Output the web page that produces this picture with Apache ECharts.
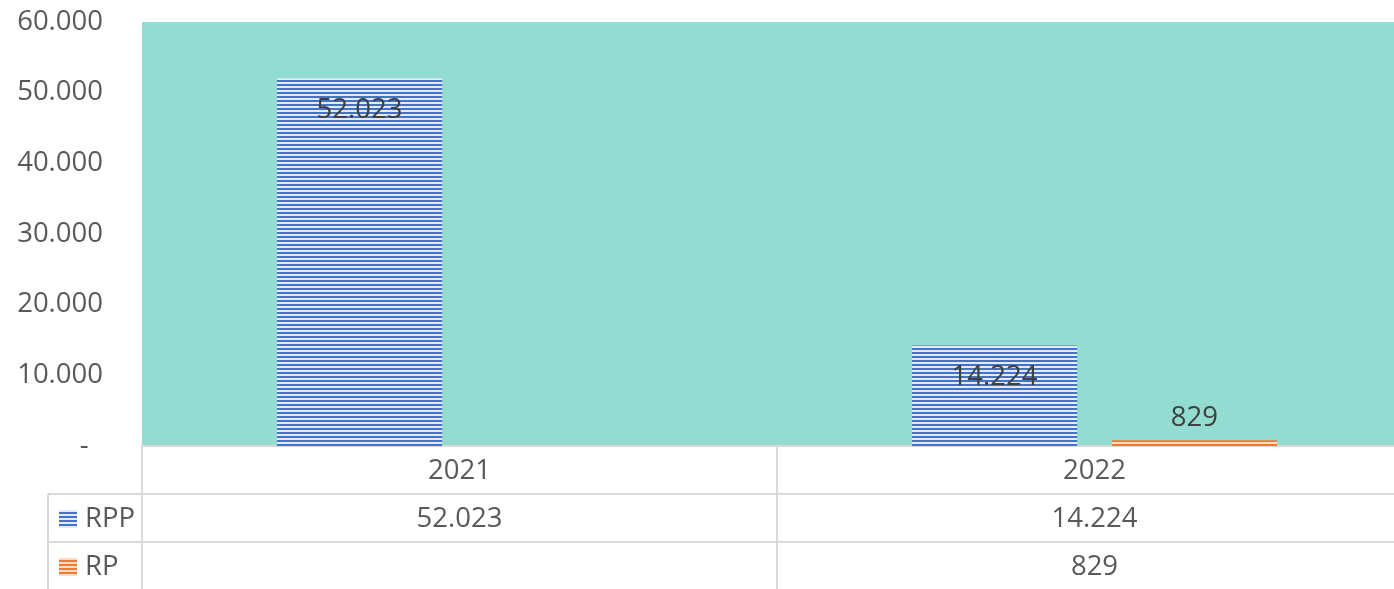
<!DOCTYPE html>
<html>
<head>
<meta charset="utf-8">
<script src="https://cdn.jsdelivr.net/npm/echarts@6/dist/echarts.min.js"></script>
<style>
html,body{margin:0;padding:0;background:#fff;}
#c{width:1394px;height:589px;}
</style>
</head>
<body>
<div id="c"></div>
<script>
const categories = ['2021', '2022'];
const seriesNames = ['RPP', 'RP'];
const rppValues = [52023, 14224];
const rpValues = [null, 829];
const yTicks = [0, 10000, 20000, 30000, 40000, 50000, 60000];

const FONT = '"Open Sans", "Noto Sans", sans-serif';
const FS = 27.5;
const BLUE = '#4472C4', BLUE_L = '#e3e9f6';
const ORANGE = '#ED7D31', ORANGE_L = '#f9dcc8';
const GRID = {left: 142, top: 22, width: 1270, height: 424};

function stripe(dark, light) {
  const c = document.createElement('canvas');
  c.width = 4; c.height = 4;
  const g = c.getContext('2d');
  g.fillStyle = light; g.fillRect(0, 0, 4, 4);
  g.fillStyle = dark; g.fillRect(0, 0, 4, 2);
  return {image: c, repeat: 'repeat'};
}
function fmt(v) {
  if (v === null || v === undefined) return '';
  if (v === 0) return '-  ';
  return String(v).replace(/\B(?=(\d{3})+(?!\d))/g, '.');
}

const chart = echarts.init(document.getElementById('c'), null, {renderer: 'canvas'});
const option = {
  animation: false,
  grid: Object.assign({show: true, backgroundColor: '#93DCD1', borderWidth: 0, containLabel: false, outerBoundsMode: 'none'}, GRID),
  xAxis: {
    type: 'category', data: categories,
    axisLine: {lineStyle: {color: '#d9d9d9', width: 2}},
    axisTick: {show: true, length: 143, interval: 0, lineStyle: {color: '#d9d9d9', width: 2}},
    axisLabel: {fontFamily: FONT, fontSize: FS, color: '#595959', margin: 11}
  },
  yAxis: {
    type: 'value', min: yTicks[0], max: yTicks[yTicks.length - 1], interval: 10000,
    axisLine: {show: false}, axisTick: {show: false}, splitLine: {show: false},
    axisLabel: {fontFamily: FONT, fontSize: FS, color: '#595959', margin: 39, formatter: fmt}
  },
  series: [
    {
      name: seriesNames[0], type: 'bar', data: rppValues,
      barGap: '21%', barCategoryGap: '42.5%',
      itemStyle: {color: stripe(BLUE, BLUE_L)},
      label: {show: true, position: 'insideTop', distance: 18, fontFamily: FONT, fontSize: FS, color: '#404040', formatter: p => fmt(p.value)}
    },
    {
      name: seriesNames[1], type: 'bar', data: rpValues,
      itemStyle: {color: stripe(ORANGE, ORANGE_L)},
      label: {show: true, position: 'top', distance: 8, fontFamily: FONT, fontSize: FS, color: '#404040', formatter: p => fmt(p.value)}
    }
  ]
};
chart.setOption(option);

// data table below the axis
const yBase = 446;
const rowH = 48;
const leftX = 48;
const rows = [{name: seriesNames[0], vals: rppValues, dark: BLUE, light: BLUE_L},
              {name: seriesNames[1], vals: rpValues, dark: ORANGE, light: ORANGE_L}];
const gfx = [];
rows.forEach((r, i) => {
  const yTop = yBase + rowH * (i + 1);
  gfx.push({type: 'line', shape: {x1: leftX, y1: yTop, x2: 1394, y2: yTop}, style: {stroke: '#d9d9d9', lineWidth: 2}});
  const yc = yTop + rowH / 2 + 1;
  gfx.push({type: 'rect', shape: {x: 59, y: yc - 9, width: 18, height: 18}, style: {fill: stripe(r.dark, r.light)}});
  gfx.push({type: 'text', x: 85, y: yc, style: {text: r.name, font: FS + 'px ' + FONT, fill: '#595959', verticalAlign: 'middle', textAlign: 'left'}});
  r.vals.forEach((v, j) => {
    const x = chart.convertToPixel({xAxisIndex: 0}, categories[j]);
    gfx.push({type: 'text', x: x, y: yc, style: {text: fmt(v), font: FS + 'px ' + FONT, fill: '#595959', verticalAlign: 'middle', textAlign: 'center'}});
  });
});
gfx.push({type: 'line', shape: {x1: leftX, y1: yBase + rowH, x2: leftX, y2: 589}, style: {stroke: '#d9d9d9', lineWidth: 2}});
chart.setOption({graphic: gfx});
</script>
</body>
</html>
